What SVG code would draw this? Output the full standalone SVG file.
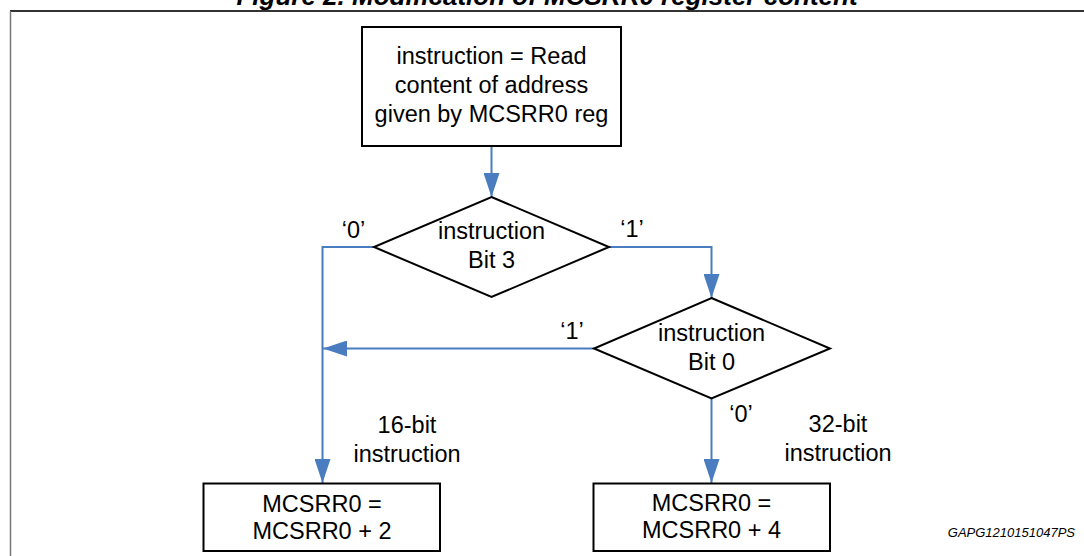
<svg xmlns="http://www.w3.org/2000/svg" width="1084" height="556" viewBox="0 0 1084 556">
<defs>
<style>
text{font-family:"Liberation Sans",Arial,sans-serif;fill:#000}
.t{font-size:23.5px;text-anchor:middle}
.shape{fill:#fff;stroke:#000;stroke-width:2}
.conn{fill:none;stroke:#4a7cc0;stroke-width:2}
</style>
<marker id="arr" markerUnits="userSpaceOnUse" markerWidth="24" markerHeight="16" refX="24" refY="8" orient="auto">
<path d="M0,0 L24,8 L0,16 z" fill="#4a7cc0"/>
</marker>
</defs>
<rect width="1084" height="556" fill="#fff"/>
<text x="547" y="4.5" style="font-size:26px;font-weight:bold;font-style:italic;text-anchor:middle">Figure 2. Modification of MCSRR0 register content</text>
<line x1="10" y1="11" x2="1084" y2="11" stroke="#333" stroke-width="2"/>
<line x1="10.5" y1="11" x2="10.5" y2="556" stroke="#777" stroke-width="1.5"/>

<g id="connectors">
<path class="conn" d="M491.5,146 L491.5,197" marker-end="url(#arr)"/>
<path class="conn" d="M374,247 L322.5,247 L322.5,483" marker-end="url(#arr)"/>
<path class="conn" d="M609,247 L711.5,247 L711.5,298" marker-end="url(#arr)"/>
<path class="conn" d="M594,348.5 L323,348.5" marker-end="url(#arr)"/>
<path class="conn" d="M711.5,398.5 L711.5,483" marker-end="url(#arr)"/>
<text class="t" x="353.5" y="238">‘0’</text>
<text class="t" x="632" y="237">‘1’</text>
<text class="t" x="572" y="339">‘1’</text>
<text class="t" x="741" y="421.5">‘0’</text>
<text class="t" x="407" y="432.5">16-bit</text>
<text class="t" x="407" y="461.5">instruction</text>
<text class="t" x="838" y="432">32-bit</text>
<text class="t" x="838" y="461">instruction</text>
</g>

<g id="read">
<rect class="shape" x="362" y="27" width="259" height="119"/>
<text class="t" x="491.5" y="64">instruction = Read</text>
<text class="t" x="491.5" y="93">content of address</text>
<text class="t" x="491.5" y="122">given by MCSRR0 reg</text>
</g>

<g id="bit3">
<polygon class="shape" points="491.5,197 609,247 491.5,297 374,247"/>
<text class="t" x="491.5" y="239">instruction</text>
<text class="t" x="491.5" y="268">Bit 3</text>
</g>

<g id="bit0">
<polygon class="shape" points="711.5,298 830,348.5 711.5,398.5 594,348.5"/>
<text class="t" x="711.5" y="341">instruction</text>
<text class="t" x="711.5" y="369.5">Bit 0</text>
</g>

<g id="plus2">
<rect class="shape" x="203.5" y="483.5" width="236.5" height="67.5"/>
<text class="t" x="322" y="511.5">MCSRR0 =</text>
<text class="t" x="322" y="538.5">MCSRR0 + 2</text>
</g>

<g id="plus4">
<rect class="shape" x="593.5" y="483.5" width="236.5" height="67.5"/>
<text class="t" x="711.5" y="510.5">MCSRR0 =</text>
<text class="t" x="711.5" y="538">MCSRR0 + 4</text>
</g>

<text x="1075" y="537" style="font-size:13px;font-style:italic;text-anchor:end">GAPG1210151047PS</text>
</svg>
